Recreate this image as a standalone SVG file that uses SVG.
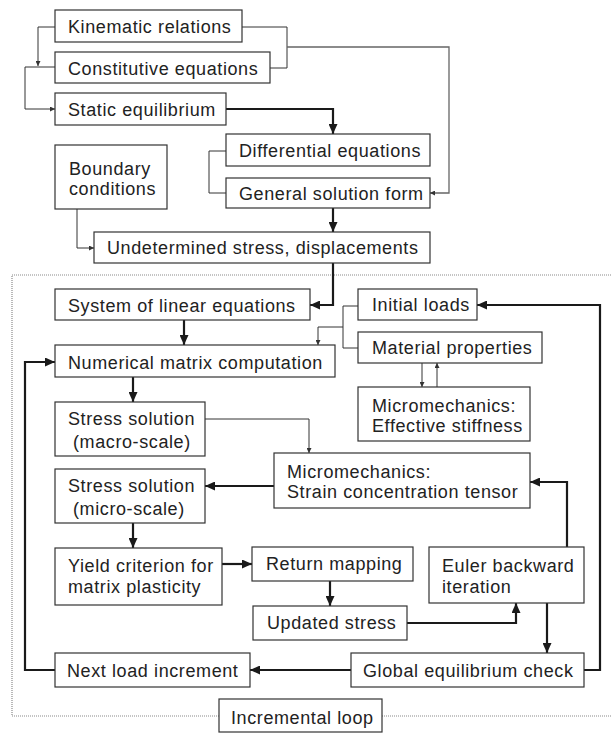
<svg xmlns="http://www.w3.org/2000/svg" width="611" height="733" viewBox="0 0 611 733">
<style>
.b{fill:#fff;stroke:#333;stroke-width:1.2}
.t{font-family:"Liberation Sans",Arial,Helvetica,sans-serif;font-size:18px;letter-spacing:0.6px;fill:#222}
.th{fill:none;stroke:#333;stroke-width:1}
.tk{fill:none;stroke:#1a1a1a;stroke-width:2.2}
.gr{fill:none;stroke:#666;stroke-width:1.3}
.dot{fill:none;stroke:#8a8a8a;stroke-width:1.2;stroke-dasharray:1 1}
</style>
<defs>
<marker id="ak" markerUnits="userSpaceOnUse" markerWidth="11" markerHeight="9" refX="10" refY="4.5" orient="auto"><path d="M0,0 L10,4.5 L0,9 z" fill="#1a1a1a"/></marker>
<marker id="an" markerUnits="userSpaceOnUse" markerWidth="6" markerHeight="5" refX="5" refY="2.5" orient="auto"><path d="M0,0 L5,2.5 L0,5 z" fill="#333"/></marker>
</defs>
<rect width="611" height="733" fill="#fff"/>
<g id="loop-frame">
<path class="dot" d="M219,716 H12 V275 H611"/>
<path class="dot" d="M382,716 H611"/>
</g>
<g id="connectors">
<path class="th" d="M55,27 H38 V66" marker-end="url(#an)"/>
<path class="th" d="M55,67 H25 V109 H55" marker-end="url(#an)"/>
<path class="th" d="M242,27 H287 V68 H270"/>
<path class="gr" d="M287,47 H449 V193 H430" marker-end="url(#an)"/>
<path class="tk" d="M226,109 H333 V134" marker-end="url(#ak)"/>
<path class="th" d="M226,151 H209 V193 H226"/>
<path class="tk" d="M333,208 V232" marker-end="url(#ak)"/>
<path class="th" d="M77,209 V248 H94" marker-end="url(#an)"/>
<path class="tk" d="M333,263 V305 H310" marker-end="url(#ak)"/>
<path class="tk" d="M184,320 V345" marker-end="url(#ak)"/>
<path class="th" d="M358,306 H343 V348 H358"/>
<path class="th" d="M343,327 H318 V345" marker-end="url(#an)"/>
<path class="th" d="M422,363 V387" marker-end="url(#an)"/>
<path class="th" d="M437,387 V363" marker-end="url(#an)"/>
<path class="tk" d="M133,377 V402" marker-end="url(#ak)"/>
<path class="th" d="M205,419 H309 V453" marker-end="url(#an)"/>
<path class="tk" d="M274,486 H205" marker-end="url(#ak)"/>
<path class="tk" d="M133,523 V548" marker-end="url(#ak)"/>
<path class="tk" d="M222,564 H252" marker-end="url(#ak)"/>
<path class="tk" d="M330,581 V606" marker-end="url(#ak)"/>
<path class="tk" d="M407,623 H516 V603" marker-end="url(#ak)"/>
<path class="tk" d="M567,547 V482 H530" marker-end="url(#ak)"/>
<path class="tk" d="M547,603 V653" marker-end="url(#ak)"/>
<path class="tk" d="M351,670 H250" marker-end="url(#ak)"/>
<path class="tk" d="M55,670 H25 V362 H55" marker-end="url(#ak)"/>
<path class="tk" d="M584,670 H600 V305 H477" marker-end="url(#ak)"/>
</g>
<g id="kinematic"><rect class="b" x="55" y="10" width="187" height="32"/><text class="t" x="68" y="33">Kinematic relations</text></g>
<g id="constitutive"><rect class="b" x="55" y="52" width="215" height="31"/><text class="t" x="68" y="75">Constitutive equations</text></g>
<g id="static"><rect class="b" x="55" y="93" width="171" height="32"/><text class="t" x="68" y="116">Static equilibrium</text></g>
<g id="boundary"><rect class="b" x="55" y="145" width="112" height="64"/><text class="t" x="69" y="175">Boundary</text><text class="t" x="69" y="195">conditions</text></g>
<g id="differential"><rect class="b" x="226" y="134" width="204" height="32"/><text class="t" x="239" y="157">Differential equations</text></g>
<g id="general"><rect class="b" x="226" y="178" width="204" height="30"/><text class="t" x="239" y="200">General solution form</text></g>
<g id="undetermined"><rect class="b" x="94" y="232" width="336" height="31"/><text class="t" x="107" y="254">Undetermined stress, displacements</text></g>
<g id="system"><rect class="b" x="55" y="289" width="255" height="31"/><text class="t" x="68" y="312">System of linear equations</text></g>
<g id="initial"><rect class="b" x="358" y="289" width="119" height="31"/><text class="t" x="372" y="311">Initial loads</text></g>
<g id="material"><rect class="b" x="358" y="332" width="184" height="31"/><text class="t" x="372" y="354">Material properties</text></g>
<g id="numerical"><rect class="b" x="55" y="345" width="280" height="32"/><text class="t" x="68" y="369">Numerical matrix computation</text></g>
<g id="effective"><rect class="b" x="358" y="387" width="172" height="54"/><text class="t" x="372" y="412">Micromechanics:</text><text class="t" x="372" y="432">Effective stiffness</text></g>
<g id="macro"><rect class="b" x="55" y="402" width="150" height="54"/><text class="t" x="68" y="425">Stress solution</text><text class="t" x="73" y="448">(macro-scale)</text></g>
<g id="strain"><rect class="b" x="274" y="453" width="256" height="55"/><text class="t" x="287" y="478">Micromechanics:</text><text class="t" x="287" y="498">Strain concentration tensor</text></g>
<g id="micro"><rect class="b" x="55" y="469" width="150" height="54"/><text class="t" x="68" y="492">Stress solution</text><text class="t" x="73" y="515">(micro-scale)</text></g>
<g id="yield"><rect class="b" x="55" y="548" width="167" height="57"/><text class="t" x="68" y="572">Yield criterion for</text><text class="t" x="68" y="593">matrix plasticity</text></g>
<g id="return"><rect class="b" x="252" y="547" width="161" height="34"/><text class="t" x="266" y="570">Return mapping</text></g>
<g id="euler"><rect class="b" x="429" y="547" width="155" height="56"/><text class="t" x="442" y="572">Euler backward</text><text class="t" x="442" y="593">iteration</text></g>
<g id="updated"><rect class="b" x="253" y="606" width="154" height="34"/><text class="t" x="267" y="629">Updated stress</text></g>
<g id="next"><rect class="b" x="55" y="653" width="195" height="34"/><text class="t" x="67" y="677">Next load increment</text></g>
<g id="global"><rect class="b" x="351" y="653" width="233" height="34"/><text class="t" x="363" y="677">Global equilibrium check</text></g>
<g id="incremental"><rect class="b" x="219" y="699" width="163" height="33"/><text class="t" x="231" y="724">Incremental loop</text></g>
</svg>
